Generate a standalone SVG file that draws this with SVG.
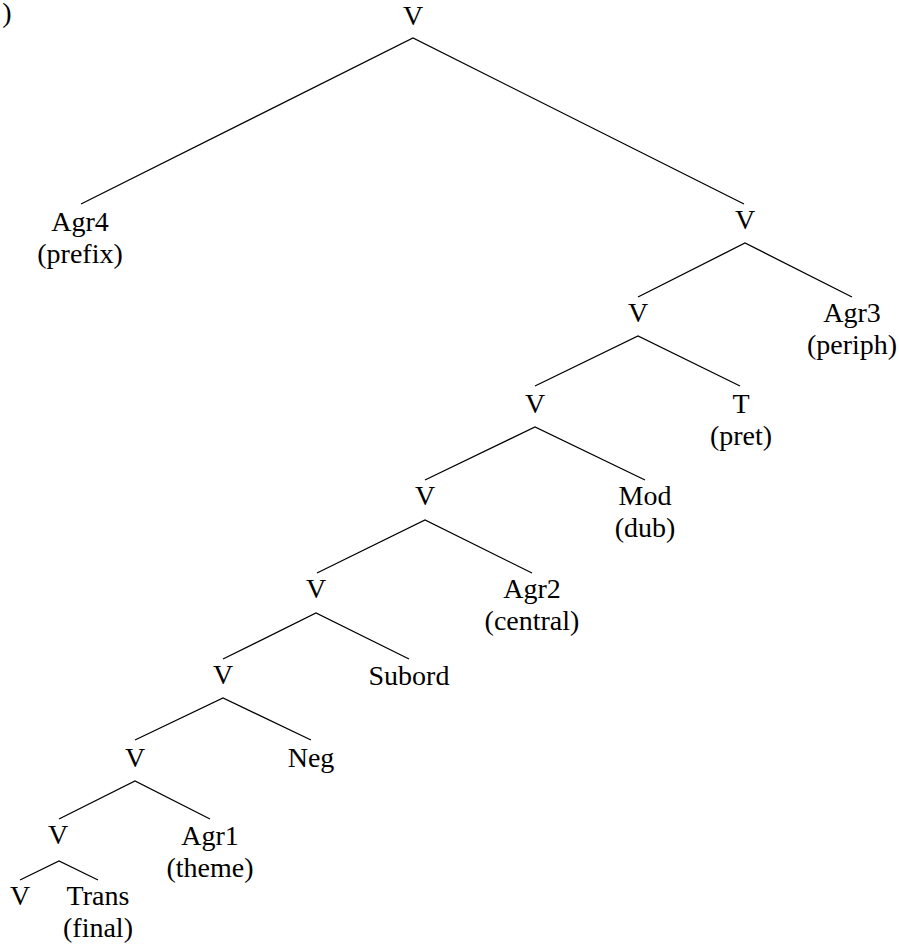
<svg xmlns="http://www.w3.org/2000/svg" width="899" height="949" viewBox="0 0 899 949">
  <style>
    .lbl { font-family: "Liberation Serif", "DejaVu Serif", "Times New Roman", serif; font-size: 28px; fill: #000; text-anchor: middle; }
    .edge { stroke: #000; stroke-width: 1.3; fill: none; stroke-linecap: butt; }
  </style>
  <rect width="899" height="949" fill="#fff"/>

  <!-- example number at the left edge -->
  <text class="lbl" x="7" y="22">)</text>

  <!-- branches -->
  <g id="edges">
    <polyline class="edge" points="81,204 413,38 744,204"/>
    <polyline class="edge" points="638,297 745,243 852,297"/>
    <polyline class="edge" points="535,386 638,336 740,386"/>
    <polyline class="edge" points="425,480 535,427 645,480"/>
    <polyline class="edge" points="317,573 425,520 532,573"/>
    <polyline class="edge" points="223,659 316,613 409,659"/>
    <polyline class="edge" points="135,740 223,698 311,740"/>
    <polyline class="edge" points="59,819 135,781 210,819"/>
    <polyline class="edge" points="20,880 59,861 98,880"/>
  </g>

  <!-- nodes -->
  <g id="v0" class="lbl"><text x="413" y="25">V</text></g>
  <g id="agr4" class="lbl"><text x="80" y="231">Agr4</text><text x="80" y="263">(prefix)</text></g>
  <g id="v1" class="lbl"><text x="745" y="229">V</text></g>
  <g id="v2" class="lbl"><text x="638" y="322">V</text></g>
  <g id="agr3" class="lbl"><text x="852" y="322">Agr3</text><text x="852" y="354">(periph)</text></g>
  <g id="v3" class="lbl"><text x="535" y="413">V</text></g>
  <g id="t" class="lbl"><text x="741" y="413">T</text><text x="741" y="445">(pret)</text></g>
  <g id="v4" class="lbl"><text x="425" y="505">V</text></g>
  <g id="mod" class="lbl"><text x="645" y="505">Mod</text><text x="645" y="537">(dub)</text></g>
  <g id="v5" class="lbl"><text x="316" y="598">V</text></g>
  <g id="agr2" class="lbl"><text x="532" y="598">Agr2</text><text x="532" y="630">(central)</text></g>
  <g id="v6" class="lbl"><text x="223" y="684">V</text></g>
  <g id="subord" class="lbl"><text x="409" y="685">Subord</text></g>
  <g id="v7" class="lbl"><text x="135" y="767">V</text></g>
  <g id="neg" class="lbl"><text x="311" y="767">Neg</text></g>
  <g id="v8" class="lbl"><text x="58" y="844">V</text></g>
  <g id="agr1" class="lbl"><text x="210" y="845">Agr1</text><text x="210" y="877">(theme)</text></g>
  <g id="v9" class="lbl"><text x="20" y="905">V</text></g>
  <g id="trans" class="lbl"><text x="98" y="905">Trans</text><text x="98" y="937">(final)</text></g>
</svg>
